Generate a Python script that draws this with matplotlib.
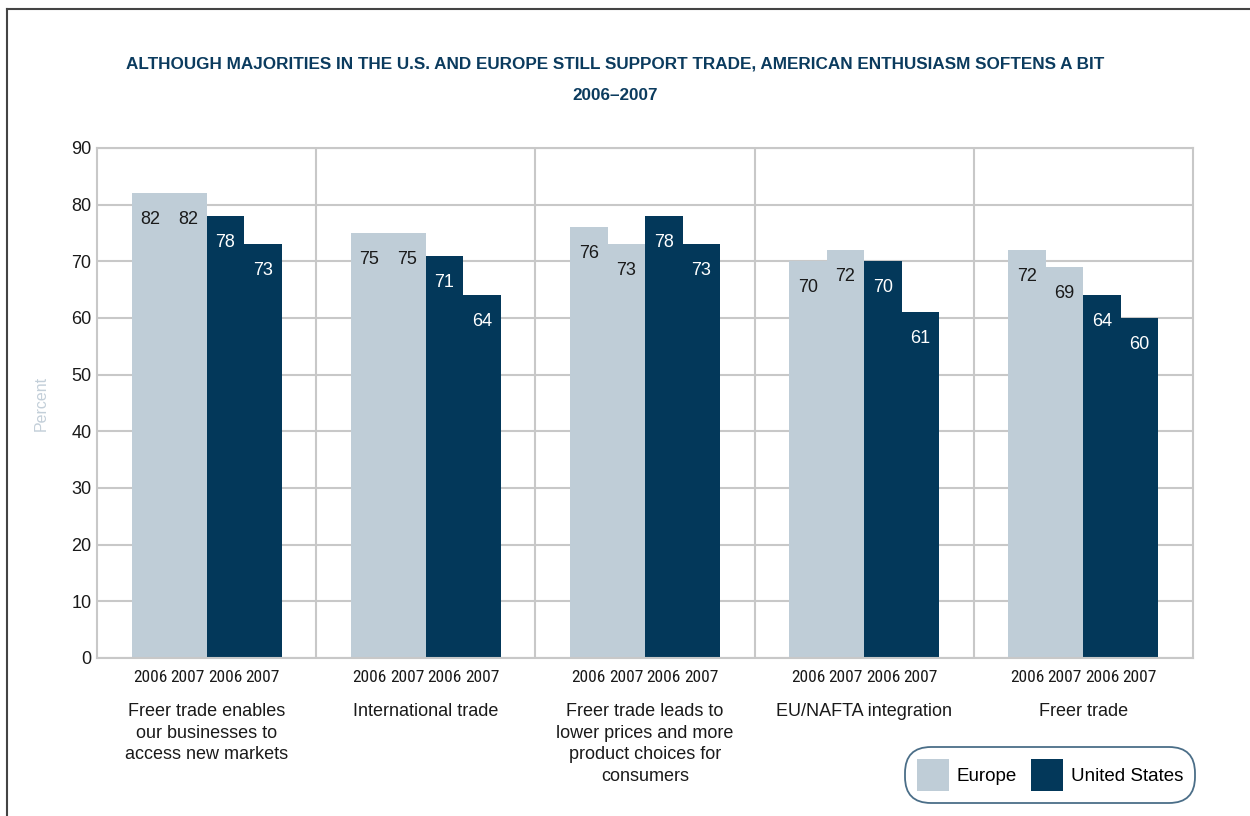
import numpy as np
import matplotlib.pyplot as plt
from matplotlib import font_manager
from matplotlib.patches import Patch
from matplotlib.lines import Line2D

categories = ["Freer trade enables\nour businesses to\naccess new markets",
              "International trade",
              "Freer trade leads to\nlower prices and more\nproduct choices for\nconsumers",
              "EU/NAFTA integration",
              "Freer trade"]
europe_2006 = [82, 75, 76, 70, 72]
europe_2007 = [82, 75, 73, 72, 69]
us_2006 = [78, 71, 78, 70, 64]
us_2007 = [73, 64, 73, 61, 60]
years = ["2006", "2007", "2006", "2007"]

light = "#bfcdd7"
dark = "#03385a"
title_color = "#0b3b5e"
grid_color = "#c8c8c8"

plt.rcParams["font.family"] = ["Liberation Sans", "DejaVu Sans"]

# pick a narrow face for the year labels if one is around
installed = {f.name for f in font_manager.fontManager.ttflist}
narrow_pick = next((n for n in ["Liberation Sans Narrow", "Roboto Condensed",
                                "Open Sans Condensed", "Noto Sans Condensed"] if n in installed), None)
if narrow_pick:
    year_font = dict(family=[narrow_pick, "DejaVu Sans"], fontsize=12.5)
else:
    year_font = dict(family=["Liberation Sans", "DejaVu Sans"], fontsize=10.5)

fig = plt.figure(figsize=(12.5, 8.16), dpi=100)
ax = fig.add_axes([97 / 1250, 1 - 658 / 816, (1193 - 97) / 1250, (658 - 148) / 816])

# outer frame (top and left edges only)
fig.add_artist(Line2D([7 / 1250, 7 / 1250], [0, 1 - 9 / 816], color="#444444", lw=1.5))
fig.add_artist(Line2D([7 / 1250, 1], [1 - 9 / 816, 1 - 9 / 816], color="#444444", lw=1.5))

x = np.arange(len(categories))
w = 150 / 219.2 / 4
series = [europe_2006, europe_2007, us_2006, us_2007]
colors = [light, light, dark, dark]
txt_colors = ["#1a1a1a", "#1a1a1a", "white", "white"]
offsets = [-1.5 * w, -0.5 * w, 0.5 * w, 1.5 * w]

for vals, c, tc, off in zip(series, colors, txt_colors, offsets):
    bars = ax.bar(x + off, vals, width=w, color=c, zorder=2, linewidth=0)
    for b, v in zip(bars, vals):
        ax.annotate(str(v), (b.get_x() + b.get_width() / 2, v), xytext=(0, -19),
                    textcoords="offset points", ha="center", va="center",
                    color=tc, fontsize=13, zorder=3)

ax.set_xlim(-0.5, len(categories) - 0.5)
ax.set_ylim(0, 90)
ax.set_yticks(range(0, 91, 10))
ax.yaxis.grid(True, color=grid_color, lw=1.5, zorder=0)
for sep in x[:-1] + 0.5:
    ax.axvline(sep, color=grid_color, lw=1.5, zorder=0)
for s in ax.spines.values():
    s.set_color(grid_color)
    s.set_linewidth(1.5)
ax.tick_params(axis="y", length=0, labelsize=13, labelcolor="#1a1a1a", pad=4)
ax.tick_params(axis="x", length=0)
ax.set_xticks([])
ax.set_ylabel("Percent", color="#c3cfd9", fontsize=11.5, labelpad=16)

# year labels and category names under each group
for i, cat in enumerate(categories):
    for off, yr in zip(offsets, years):
        ax.annotate(yr, (i + off, 0), xytext=(0, -14), textcoords="offset points",
                    ha="center", va="center", color="#1a1a1a",
                    annotation_clip=False, **year_font)
    ax.annotate(cat, (i, 0), xytext=(0, -32.5), textcoords="offset points",
                ha="center", va="top", fontsize=13, color="#1a1a1a",
                linespacing=1.36, annotation_clip=False)

fig.text(615 / 1250, 1 - 64 / 816,
         "ALTHOUGH MAJORITIES IN THE U.S. AND EUROPE STILL SUPPORT TRADE, AMERICAN ENTHUSIASM SOFTENS A BIT",
         ha="center", va="center", color=title_color, fontsize=12.3, fontweight="bold")
fig.text(615 / 1250, 1 - 95 / 816, "2006\u20132007",
         ha="center", va="center", color=title_color, fontsize=12.3, fontweight="bold")

handles = [Patch(facecolor=light, label="Europe"), Patch(facecolor=dark, label="United States")]
leg = fig.legend(handles=handles, ncol=2, loc="center", bbox_to_anchor=(1050 / 1250, 1 - 775 / 816),
                 fontsize=13.5, handlelength=1.7, handleheight=2.25, handletextpad=0.43,
                 columnspacing=0.75, borderpad=0.3, borderaxespad=0, frameon=True, fancybox=True)
frame = leg.get_frame()
frame.set_edgecolor("#1e4a6a")
frame.set_linewidth(1.3)
frame.set_boxstyle("round,pad=0.35,rounding_size=1.4")

fig.savefig("out.png", dpi=100)
